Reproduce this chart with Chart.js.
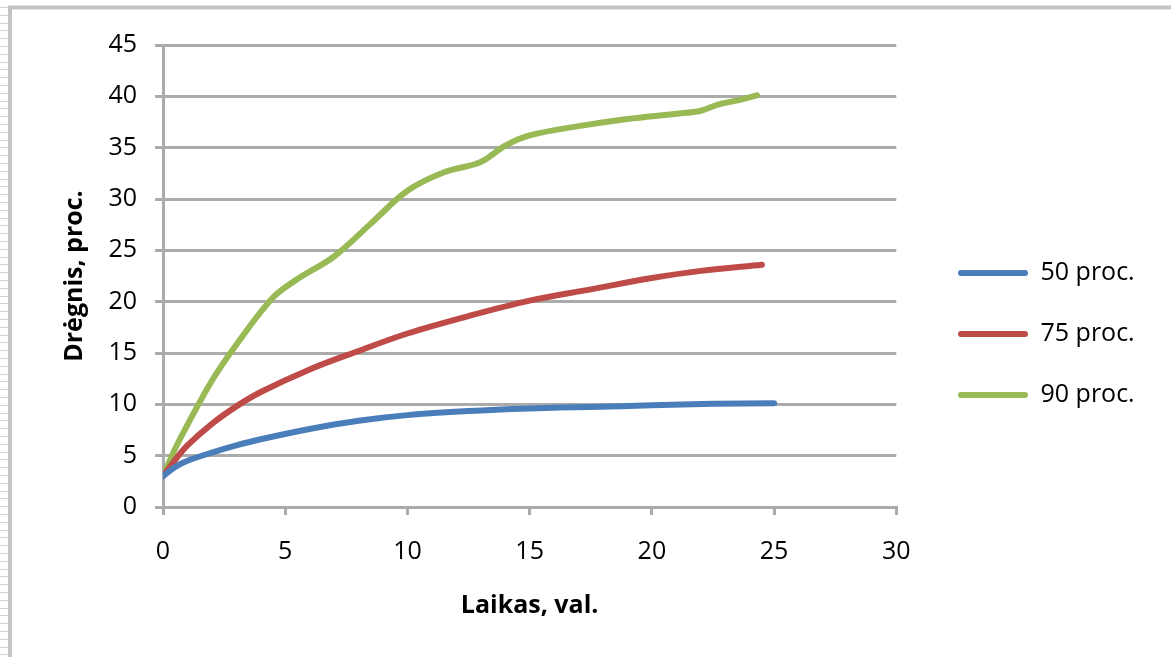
<!DOCTYPE html>
<html lang="lt">
<head>
<meta charset="utf-8">
<title>Drėgnis</title>
<script src="https://cdn.jsdelivr.net/npm/chart.js@4/dist/chart.umd.min.js"></script>
<style>
  html, body { margin: 0; padding: 0; background: #ffffff; }
  #wrap { width: 1171px; height: 657px; }
</style>
</head>
<body>
<div id="wrap"><canvas id="c" width="1171" height="657"></canvas></div>
<script>
// Series: time (h) and moisture (%) for three air humidity levels
const seriesNames = ['50 proc.', '75 proc.', '90 proc.'];

const t50 = [0, 0.5, 1, 2, 3, 4, 6, 8, 10, 12.5, 15, 17.5, 20, 22.5, 25];
const v50 = [3, 3.9, 4.5, 5.3, 6.0, 6.6, 7.6, 8.4, 8.95, 9.35, 9.6, 9.75, 9.9, 10.05, 10.1];

const t75 = [0, 0.5, 1, 2, 3, 4, 6, 8, 10, 12.5, 15, 17.5, 20, 22, 24.5];
const v75 = [3, 4.6, 6.0, 8.1, 9.8, 11.2, 13.4, 15.2, 16.9, 18.6, 20.1, 21.2, 22.3, 23.0, 23.6];

const t90 = [0, 0.5, 1, 2, 3, 4.5, 5.5, 7, 8.5, 10, 11.5, 13, 14, 15, 17, 19, 21, 22, 22.7, 23.5, 24.3];
const v90 = [3, 5.7, 8.0, 12.3, 15.8, 20.4, 22.2, 24.4, 27.6, 30.8, 32.6, 33.6, 35.2, 36.2, 37.1, 37.8, 38.3, 38.6, 39.2, 39.6, 40.1];

const xTicks = [0, 5, 10, 15, 20, 25, 30];
const yTicks = [0, 5, 10, 15, 20, 25, 30, 35, 40, 45];

const xTitle = 'Laikas, val.';
const yTitle = 'Drėgnis, proc.';

const colors = ['#4a7ebb', '#be4b48', '#98b954'];

function pairs(ts, vs) { return ts.map((t, i) => ({ x: t, y: vs[i] })); }

const FONT = '"Open Sans", Lato, sans-serif';
const GRID = '#ababab';
const INK = '#000000';

// Window-like frame around the chart (top edge and ruled left edge)
const framePlugin = {
  id: 'frame',
  beforeDraw(chart) {
    const ctx = chart.ctx;
    ctx.save();
    ctx.fillStyle = '#ffffff';
    ctx.fillRect(0, 0, chart.width, chart.height);
    ctx.strokeStyle = '#d2d2d2';
    ctx.lineWidth = 1;
    for (let y = 7; y < chart.height; y += 7.8) {
      ctx.beginPath();
      ctx.moveTo(0, Math.round(y) + 0.5);
      ctx.lineTo(8, Math.round(y) + 0.5);
      ctx.stroke();
    }
    ctx.strokeStyle = '#c4c4c4';
    ctx.lineWidth = 4;
    ctx.beginPath();
    ctx.moveTo(10, chart.height);
    ctx.lineTo(10, 7.5);
    ctx.lineTo(chart.width, 7.5);
    ctx.stroke();
    ctx.restore();
  }
};

// Place the legend column to the right of the plot
const legendPlace = {
  id: 'legendPlace',
  afterLayout(chart) {
    const lg = chart.legend;
    const pad = lg.options.labels.padding;
    const fs = lg.options.labels.font.size;
    const dx = 958 - (lg.left + pad);
    lg.left += dx; lg.right += dx;
    const top = 273 - pad - fs / 2;
    lg.top = top; lg.bottom = top + 320;
  }
};

new Chart(document.getElementById('c'), {
  type: 'line',
  data: {
    datasets: [
      { label: seriesNames[0], data: pairs(t50, v50) },
      { label: seriesNames[1], data: pairs(t75, v75) },
      { label: seriesNames[2], data: pairs(t90, v90) }
    ].map((d, i) => Object.assign(d, {
      borderColor: colors[i],
      backgroundColor: colors[i],
      borderWidth: 6,
      pointRadius: 0,
      tension: 0.35,
      borderCapStyle: 'round',
      borderJoinStyle: 'round',
      fill: false
    }))
  },
  options: {
    responsive: false,
    animation: false,
    layout: { padding: { left: 45, top: 45, right: 52, bottom: 20 } },
    plugins: {
      tooltip: { enabled: false },
      legend: {
        position: 'right',
        align: 'start',
        labels: {
          font: { family: FONT, size: 25 },
          color: INK,
          boxWidth: 70,
          boxHeight: 6,
          padding: 36,
          useBorderRadius: true,
          borderRadius: 3,
          generateLabels(chart) {
            return Chart.defaults.plugins.legend.labels.generateLabels(chart)
              .map(l => Object.assign(l, { lineWidth: 0 }));
          }
        }
      }
    },
    scales: {
      x: {
        type: 'linear',
        min: 0, max: 30,
        afterBuildTicks(s) { s.ticks = xTicks.map(v => ({ value: v })); },
        afterFit(s) { s.height = 657 - 20 - 507; },
        ticks: { font: { family: FONT, size: 25 }, color: INK, padding: 22, maxRotation: 0 },
        grid: { drawOnChartArea: false, drawTicks: true, tickLength: 8, color: GRID, lineWidth: 3 },
        border: { display: true, color: GRID, width: 3 },
        title: { display: true, text: xTitle, font: { family: FONT, size: 25, weight: 'bold' }, color: INK, padding: { top: 4, bottom: 16 } }
      },
      y: {
        type: 'linear',
        min: 0, max: 45,
        afterBuildTicks(s) { s.ticks = yTicks.map(v => ({ value: v })); },
        afterFit(s) { s.width = 163 - 45; },
        ticks: { font: { family: FONT, size: 25 }, color: INK, padding: 18 },
        grid: { drawOnChartArea: true, drawTicks: true, tickLength: 8, color: GRID, lineWidth: 3 },
        border: { display: true, color: GRID, width: 3 },
        title: { display: true, text: yTitle, font: { family: FONT, size: 25, weight: 'bold' }, color: INK, padding: { top: 15, bottom: 0 } }
      }
    }
  },
  plugins: [framePlugin, legendPlace]
});
</script>
</body>
</html>
